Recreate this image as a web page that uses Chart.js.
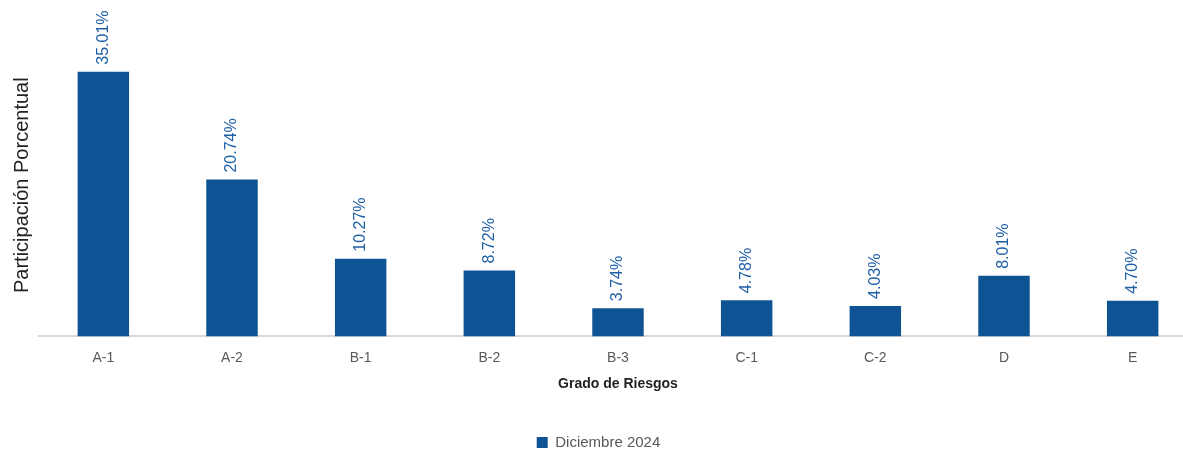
<!DOCTYPE html>
<html><head><meta charset="utf-8">
<script src="https://cdn.jsdelivr.net/npm/chart.js@4/dist/chart.umd.min.js"></script>
<style>
html,body{margin:0;padding:0;background:#fff;overflow:hidden;}
#wrap{position:relative;width:1197px;height:460px;}
</style></head>
<body><div id="wrap"><canvas id="c"></canvas></div>
<script>
const categories = ['A-1','A-2','B-1','B-2','B-3','C-1','C-2','D','E'];
const seriesName = 'Diciembre 2024';
const values = [35.01, 20.74, 10.27, 8.72, 3.74, 4.78, 4.03, 8.01, 4.70];
const valueLabels = ['35.01%','20.74%','10.27%','8.72%','3.74%','4.78%','4.03%','8.01%','4.70%'];

const FONT = '"Liberation Sans", Arial, sans-serif';
const BAR = '#0E5494';
const LABEL = '#1F5FA6';

const labelPlugin = {
  id: 'vlabels',
  afterDatasetsDraw(chart) {
    const ctx = chart.ctx;
    const meta = chart.getDatasetMeta(0);
    ctx.save();
    ctx.fillStyle = LABEL;
    ctx.font = '16px ' + FONT;
    ctx.textAlign = 'left';
    ctx.textBaseline = 'middle';
    meta.data.forEach((bar, i) => {
      ctx.save();
      ctx.translate(bar.x, bar.y - 7);
      ctx.rotate(-Math.PI / 2);
      ctx.fillText(valueLabels[i], 0, 0);
      ctx.restore();
    });
    ctx.restore();
  }
};

new Chart(document.getElementById('c'), {
  type: 'bar',
  data: {
    labels: categories,
    datasets: [{
      label: seriesName,
      data: values,
      backgroundColor: BAR,
      borderWidth: 0,
      barPercentage: 0.4,
      categoryPercentage: 1.0
    }]
  },
  plugins: [labelPlugin],
  options: {
    responsive: true,
    maintainAspectRatio: false,
    animation: false,
    layout: { padding: { top: 34, left: 0, right: 0, bottom: 0 } },
    plugins: {
      legend: {
        position: 'bottom',
        labels: {
          font: { family: FONT, size: 15 },
          color: '#595959',
          boxWidth: 11, boxHeight: 11,
          padding: 14
        }
      },
      tooltip: { enabled: false }
    },
    scales: {
      x: {
        grid: { display: false },
        border: { color: '#d9d9d9', width: 2 },
        ticks: { color: '#595959', font: { family: FONT, size: 14 }, padding: 5 },
        title: { display: true, text: 'Grado de Riesgos', color: '#222', font: { family: FONT, size: 14, weight: 'bold' }, padding: { top: 5, bottom: 28 } }
      },
      y: {
        min: 0, max: 40,
        grid: { display: false },
        border: { display: false },
        ticks: { display: false },
        title: { display: true, text: 'Participación Porcentual', color: '#222', font: { family: FONT, size: 20, lineHeight: 0.9 }, padding: { top: 13, bottom: 0 } }
      }
    }
  }
});
</script></body></html>
